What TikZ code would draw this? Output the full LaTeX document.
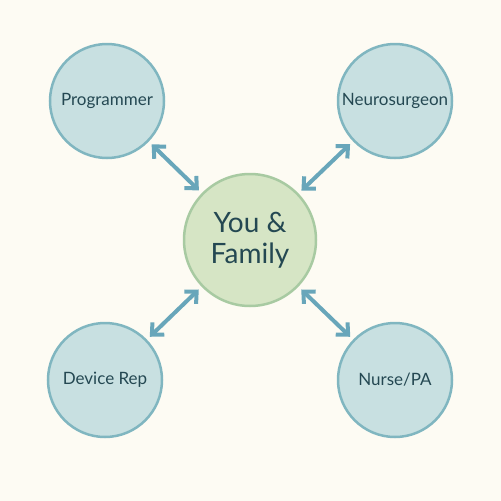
\documentclass[tikz,border=0pt]{standalone}
\usepackage{fontspec}
\setmainfont{Lato}
\usetikzlibrary{arrows.meta}

\definecolor{bgcol}{RGB}{253, 251, 243}
\definecolor{outerfill}{RGB}{200, 224, 225}
\definecolor{outerline}{RGB}{128, 182, 192}
\definecolor{centerfill}{RGB}{214, 229, 197}
\definecolor{centerline}{RGB}{168, 202, 162}
\definecolor{linkcol}{RGB}{104, 166, 186}
\definecolor{textcol}{RGB}{36, 72, 82}

\tikzset{
  role/.style={circle, fill=outerfill, draw=outerline, line width=2.5pt,
    minimum size=114pt, inner sep=0pt, text=textcol, font=\fontsize{17}{19}\selectfont},
  hub/.style={circle, fill=centerfill, draw=centerline, line width=2.5pt,
    minimum size=132pt, inner sep=0pt, text=textcol, align=center,
    font=\fontsize{28}{31}\selectfont},
  link/.style={linkcol, line width=4pt, {Straight Barb[length=9pt,width=17pt]}-{Straight Barb[length=9pt,width=17pt]},
    shorten <=4pt, shorten >=4pt}
}

\begin{document}
\begin{tikzpicture}[x=1pt,y=1pt,yscale=-1,xscale=1]

% --- BACKGROUND ---
\fill[bgcol] (0,0) rectangle (501,501);
\useasboundingbox (0,0) rectangle (501,501);

% --- CENTER ---
\node[hub] (you) at (250,240) {You \&\\Family};

% --- ROLES ---
\node[role] (prog)  at (107,101) {Programmer};
\node[role] (neuro) at (395,101) {Neurosurgeon};
\node[role] (rep)   at (105,380) {Device Rep};
\node[role] (nurse) at (395,380) {Nurse/PA};

% --- LINKS ---
\draw[link] (prog) -- (you);
\draw[link] (neuro) -- (you);
\draw[link] (rep) -- (you);
\draw[link] (nurse) -- (you);

\end{tikzpicture}
\end{document}
